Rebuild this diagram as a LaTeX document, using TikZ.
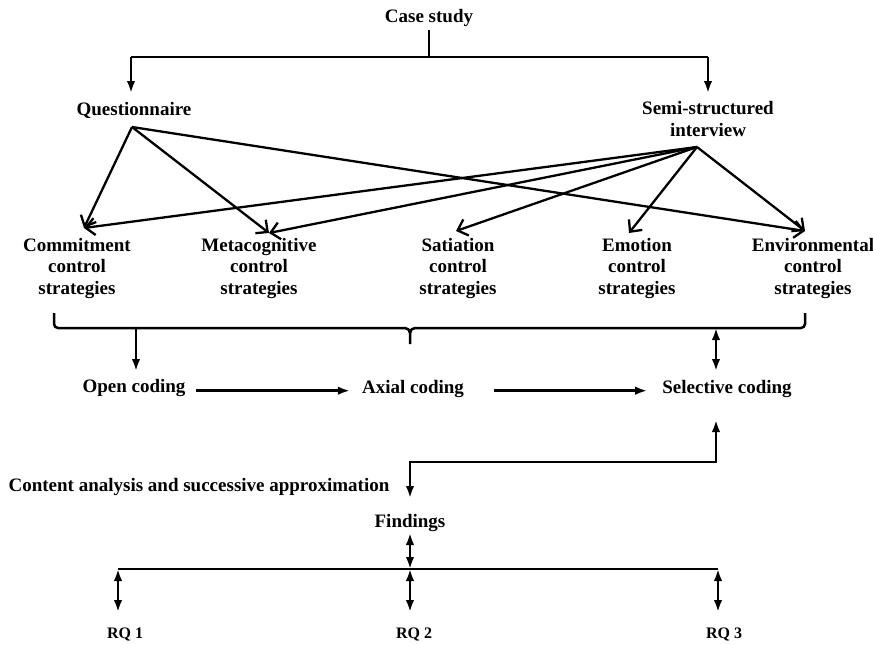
\documentclass[tikz,border=0pt]{standalone}
\usepackage{fontspec}
\setmainfont{Liberation Serif}
\usetikzlibrary{arrows.meta}
\begin{document}
\begin{tikzpicture}[x=1pt,y=-1pt,
  lbl/.style={font=\bfseries\fontsize{19}{21.5}\selectfont, inner sep=0pt, align=center, anchor=base},
  rq/.style={font=\bfseries\fontsize{16}{18}\selectfont, inner sep=0pt, anchor=base},
  ln/.style={line width=2.5pt},
  tip/.tip={Latex[length=12pt,width=8.5pt]},
  arr/.style={ln,-tip},
  darr/.style={ln,tip-tip},
  barb/.style={line width=2.3pt,-{Straight Barb[length=9pt,width=17pt]}}]
\useasboundingbox (0,0) rectangle (873,645);

% nodes (multi-line nodes are placed by the baseline of their last line)
\node[lbl] (case) at (429,22) {Case study};
\node[lbl] (quest) at (134,115) {Questionnaire};
\node[lbl] (semi) at (708,136) {Semi-structured\\interview};
\node[lbl] (comm) at (77,294) {Commitment\\control\\strategies};
\node[lbl] (meta) at (259,294) {Metacognitive\\control\\strategies};
\node[lbl] (sat) at (458,294) {Satiation\\control\\strategies};
\node[lbl] (emo) at (637,294) {Emotion\\control\\strategies};
\node[lbl] (env) at (813,294) {Environmental\\control\\strategies};
\node[lbl] (open) at (134,392) {Open coding};
\node[lbl] (axial) at (413,393) {Axial coding};
\node[lbl] (sel) at (727,393) {Selective coding};
\node[lbl] (content) at (199,491) {Content analysis and successive approximation};
\node[lbl] (find) at (410,527) {Findings};
\node[rq] (rq1) at (125,638) {RQ 1};
\node[rq] (rq2) at (414,638) {RQ 2};
\node[rq] (rq3) at (724,638) {RQ 3};

% coordinates
\coordinate (c0) at (429,30);
\coordinate (c1) at (429,57);
\coordinate (cq) at (131,57);
\coordinate (cs) at (708,57);
\coordinate (cqe) at (131,93);
\coordinate (cse) at (708,93);
\coordinate (q0) at (132,127);
\coordinate (s0) at (697,147);
\coordinate (tcomm) at (84,228);
\coordinate (tmeta) at (269,233);
\coordinate (tsat) at (456,231);
\coordinate (temo) at (629,233);
\coordinate (tenv) at (805,231);

% case study split
\draw[ln] (c0) -- (c1);
\draw[ln] (cq) -- (cs);
\draw[arr] (cq) -- (cqe);
\draw[arr] (cs) -- (cse);

% questionnaire arrows
\draw[barb] (q0) -- (tcomm);
\draw[barb] (q0) -- (tmeta);
\draw[barb] (q0) -- (tenv);
% interview arrows
\draw[barb] (s0) -- (tcomm);
\draw[barb] (s0) -- (tmeta);
\draw[barb] (s0) -- (tsat);
\draw[barb] (s0) -- (temo);
\draw[barb] (s0) -- (tenv);

% brace
\coordinate (bl) at (54,313);
\coordinate (br) at (805,313);
\coordinate (bm) at (410,344);
\draw[ln,line join=round] (bl) -- (54,324) to[out=-90,in=180] (58,328) -- (405,328) to[out=0,in=90] (410,333) -- (bm);
\draw[ln,line join=round] (410,333) to[out=90,in=180] (415,328) -- (801,328) to[out=0,in=-90] (805,324) -- (br);

% to coding
\coordinate (o0) at (136,328);
\coordinate (o1) at (136,371);
\coordinate (s1) at (716,328);
\coordinate (s2) at (716,371);
\draw[arr] (o0) -- (o1);
\draw[darr] (s1) -- (s2);
\draw[arr] ([xshift=10pt]open.east|-axial.mid) -- ([xshift=-12pt]axial.west|-axial.mid);
\draw[arr] ([xshift=30pt]axial.east|-axial.mid) -- ([xshift=-15pt]sel.west|-axial.mid);

% content analysis path
\coordinate (p0) at (716,420);
\coordinate (p1) at (716,462);
\coordinate (p2) at (410,462);
\coordinate (p3) at (410,498);
\draw[ln,tip-tip] (p0) -- (p1) -- (p2) -- (p3);

% findings
\coordinate (f0) at (410,533);
\coordinate (f1) at (410,569);
\coordinate (hl) at (118,569);
\coordinate (hr) at (718,569);
\draw[darr] (f0) -- (f1);
\draw[ln] (hl) -- (hr);
\draw[darr] (hl) -- (118,612);
\draw[darr] (f1) -- (410,612);
\draw[darr] (hr) -- (718,612);
\end{tikzpicture}
\end{document}
